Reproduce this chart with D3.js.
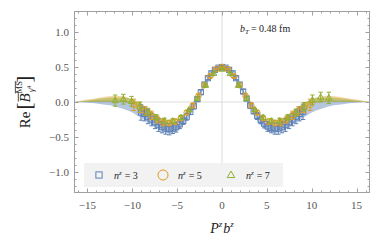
<!DOCTYPE html>
<html>
<head>
<meta charset="utf-8">
<script src="https://cdn.jsdelivr.net/npm/d3@7"></script>
<style>
  body { margin: 0; background: #fff; }
  svg { display: block; }
</style>
</head>
<body>
<script>
// ---- data ----
// n^z = 3 (blue squares)
const blueX = [-9.03, -8.64, -8.25, -7.85, -7.46, -7.07, -6.68, -6.28, -5.89, -5.50, -5.11, -4.71, -4.32, -3.93, -3.53, -3.14, -2.75, -2.36, -1.96, -1.57, -1.18, -0.79, -0.39,
  0, 0.39, 0.79, 1.18, 1.57, 1.96, 2.36, 2.75, 3.14, 3.53, 3.93, 4.32, 4.71, 5.11, 5.50, 5.89, 6.28, 6.68, 7.07, 7.46, 7.85, 8.25, 8.64, 9.03];
const blueY = [-0.15, -0.17, -0.21, -0.25, -0.29, -0.33, -0.36, -0.38, -0.39, -0.38, -0.36, -0.32, -0.27, -0.21, -0.14, -0.06, 0.04, 0.14, 0.25, 0.34, 0.41, 0.46, 0.49,
  0.50, 0.49, 0.46, 0.41, 0.34, 0.25, 0.15, 0.05, -0.05, -0.13, -0.20, -0.26, -0.31, -0.35, -0.37, -0.38, -0.38, -0.36, -0.33, -0.29, -0.25, -0.21, -0.17, -0.14];
const blueErr = [0.11, 0.10, 0.10, 0.09, 0.09, 0.09, 0.08, 0.08, 0.08, 0.07, 0.07, 0.06, 0.05, 0.05, 0.04, 0.04, 0.03, 0.03, 0.02, 0.02, 0.02, 0.02, 0.02,
  0.02, 0.02, 0.02, 0.02, 0.02, 0.02, 0.03, 0.03, 0.04, 0.04, 0.05, 0.05, 0.06, 0.07, 0.07, 0.08, 0.08, 0.08, 0.09, 0.09, 0.09, 0.10, 0.10, 0.11];

// n^z = 5 (orange circles)
const orangeX = [-9.82, -9.16, -8.51, -7.85, -7.20, -6.54, -5.89, -5.24, -4.58, -3.93, -3.27, -2.62, -1.96, -1.31, -0.65,
  0, 0.65, 1.31, 1.96, 2.62, 3.27, 3.93, 4.58, 5.24, 5.89, 6.54, 7.20, 7.85, 8.51, 9.16, 9.82];
const orangeY = [-0.04, -0.08, -0.13, -0.19, -0.25, -0.29, -0.30, -0.28, -0.23, -0.15, -0.05, 0.09, 0.24, 0.37, 0.47,
  0.50, 0.47, 0.37, 0.24, 0.09, -0.05, -0.15, -0.23, -0.28, -0.30, -0.29, -0.25, -0.19, -0.13, -0.08, -0.04];
const orangeErr = [0.08, 0.07, 0.06, 0.06, 0.05, 0.05, 0.04, 0.04, 0.03, 0.03, 0.03, 0.02, 0.02, 0.02, 0.01,
  0.01, 0.01, 0.02, 0.02, 0.02, 0.03, 0.03, 0.03, 0.04, 0.04, 0.05, 0.05, 0.06, 0.06, 0.07, 0.08];

// n^z = 7 (green triangles)
const greenX = [-11.91, -11.00, -10.08, -9.16, -8.25, -7.33, -6.41, -5.50, -4.58, -3.67, -2.75, -1.83, -0.92,
  0, 0.92, 1.83, 2.75, 3.67, 4.58, 5.50, 6.41, 7.33, 8.25, 9.16, 10.08, 11.00, 11.91];
const greenY = [0.02, 0.04, 0.01, -0.06, -0.14, -0.22, -0.27, -0.27, -0.22, -0.11, 0.05, 0.24, 0.41,
  0.47, 0.41, 0.24, 0.05, -0.11, -0.22, -0.27, -0.27, -0.22, -0.15, -0.07, 0.03, 0.07, 0.06];
const greenErr = [0.08, 0.07, 0.07, 0.06, 0.05, 0.04, 0.04, 0.03, 0.03, 0.02, 0.02, 0.02, 0.01,
  0.01, 0.01, 0.02, 0.02, 0.02, 0.03, 0.03, 0.04, 0.04, 0.05, 0.06, 0.07, 0.07, 0.08];

// fit bands: knots, centre and half width
const bandX = [-16.5, -15, -14, -13, -12, -11, -10, -9, -8, -7, -6, -5, -4, -3, -2, -1, 0,
  1, 2, 3, 4, 5, 6, 7, 8, 9, 10, 11, 12, 13, 14, 15, 16.5];
const blueBandMid = [0, 0, 0, -0.01, -0.02, -0.04, -0.08, -0.15, -0.23, -0.32, -0.38, -0.36, -0.24, -0.03, 0.22, 0.42, 0.50,
  0.42, 0.22, -0.03, -0.24, -0.36, -0.38, -0.32, -0.23, -0.15, -0.08, -0.04, -0.02, -0.01, 0, 0, 0];
const blueBandHalf = [0, 0.01, 0.02, 0.03, 0.04, 0.06, 0.07, 0.08, 0.08, 0.07, 0.06, 0.05, 0.04, 0.03, 0.02, 0.02, 0.02,
  0.02, 0.02, 0.03, 0.04, 0.05, 0.06, 0.07, 0.08, 0.08, 0.07, 0.06, 0.04, 0.03, 0.02, 0.01, 0];
const orangeBandMid = [0, 0.02, 0.03, 0.04, 0.045, 0.04, 0.0, -0.06, -0.15, -0.25, -0.30, -0.29, -0.17, 0.02, 0.24, 0.43, 0.50,
  0.43, 0.24, 0.02, -0.17, -0.29, -0.30, -0.25, -0.15, -0.06, 0.0, 0.04, 0.045, 0.04, 0.03, 0.02, 0];
const orangeBandHalf = [0, 0.015, 0.025, 0.035, 0.04, 0.04, 0.04, 0.035, 0.03, 0.025, 0.02, 0.02, 0.02, 0.015, 0.015, 0.01, 0.01,
  0.01, 0.015, 0.015, 0.02, 0.02, 0.02, 0.025, 0.03, 0.035, 0.04, 0.04, 0.04, 0.035, 0.025, 0.015, 0];
const greenBandMid = [0, 0.01, 0.02, 0.03, 0.03, 0.03, 0.01, -0.05, -0.14, -0.23, -0.27, -0.26, -0.15, 0.03, 0.24, 0.42, 0.47,
  0.42, 0.24, 0.03, -0.15, -0.26, -0.27, -0.23, -0.14, -0.05, 0.01, 0.03, 0.03, 0.03, 0.02, 0.01, 0];
const greenBandHalf = [0, 0.01, 0.02, 0.025, 0.03, 0.03, 0.03, 0.025, 0.02, 0.02, 0.015, 0.015, 0.015, 0.01, 0.01, 0.01, 0.01,
  0.01, 0.01, 0.01, 0.015, 0.015, 0.015, 0.02, 0.02, 0.025, 0.03, 0.03, 0.03, 0.025, 0.02, 0.01, 0];

const xTicks = [-15, -10, -5, 0, 5, 10, 15];
const yTicks = [-1.0, -0.5, 0.0, 0.5, 1.0];
const legendLabels = ["3", "5", "7"];

// ---- layout ----
const W = 382, H = 243;
const mLeft = 74, mRight = 370, mTop = 11, mBottom = 193;
const blue = "#5E81B5", orange = "#E19C24", green = "#8FB032";
const serif = "'Liberation Serif', 'DejaVu Serif', serif";

const svg = d3.select("body").append("svg").attr("width", W).attr("height", H);

const x = d3.scaleLinear().domain([-16.5, 16.5]).range([mLeft, mRight]);
const y = d3.scaleLinear().domain([-1.3, 1.3]).range([mBottom, mTop]);

const plot = svg.append("g");
plot.append("clipPath").attr("id", "clip").append("rect")
  .attr("x", mLeft).attr("y", mTop).attr("width", mRight - mLeft).attr("height", mBottom - mTop);
const inner = plot.append("g").attr("clip-path", "url(#clip)");

// grid lines through the origin
inner.append("line").attr("x1", x(0)).attr("x2", x(0)).attr("y1", mTop).attr("y2", mBottom)
  .attr("stroke", "#dcdcdc").attr("stroke-width", 1);
inner.append("line").attr("x1", mLeft).attr("x2", mRight).attr("y1", y(0)).attr("y2", y(0))
  .attr("stroke", "#dcdcdc").attr("stroke-width", 1);

// bands
const area = d3.area().curve(d3.curveMonotoneX)
  .x((d) => x(d[0])).y0((d) => y(d[1] - d[2])).y1((d) => y(d[1] + d[2]));
const bands = [
  [blueBandMid, blueBandHalf, blue, 0.45],
  [orangeBandMid, orangeBandHalf, orange, 0.45],
  [greenBandMid, greenBandHalf, green, 0.45],
];
bands.forEach(([mid, half, col, op]) => {
  inner.append("path")
    .datum(bandX.map((v, i) => [v, mid[i], half[i]]))
    .attr("d", area).attr("fill", col).attr("fill-opacity", op);
});

// markers
function drawMarker(g, type, cx, cy, col, scale = 1) {
  if (type === "square") {
    const s = 2.6 * scale;
    g.append("rect").attr("x", cx - s).attr("y", cy - s).attr("width", 2 * s).attr("height", 2 * s)
      .attr("fill", "none").attr("stroke", col).attr("stroke-width", 1);
  } else if (type === "circle") {
    g.append("circle").attr("cx", cx).attr("cy", cy).attr("r", 2.8 * scale)
      .attr("fill", "none").attr("stroke", col).attr("stroke-width", 1);
  } else {
    const s = 3.3 * scale;
    g.append("path")
      .attr("d", `M${cx},${cy - s}L${cx + s * 0.95},${cy + s * 0.65}L${cx - s * 0.95},${cy + s * 0.65}Z`)
      .attr("fill", "none").attr("stroke", col).attr("stroke-width", 1);
  }
}

const series = [
  [blueX, blueY, blueErr, blue, "square"],
  [orangeX, orangeY, orangeErr, orange, "circle"],
  [greenX, greenY, greenErr, green, "triangle"],
];
series.forEach(([xs, ys, es, col, type]) => {
  const g = inner.append("g");
  xs.forEach((xv, i) => {
    const cx = x(xv), y1 = y(ys[i] + es[i]), y2 = y(ys[i] - es[i]);
    g.append("line").attr("x1", cx).attr("x2", cx).attr("y1", y1).attr("y2", y2)
      .attr("stroke", col).attr("stroke-width", 1);
    [y1, y2].forEach((yy) => {
      g.append("line").attr("x1", cx - 2.2).attr("x2", cx + 2.2).attr("y1", yy).attr("y2", yy)
        .attr("stroke", col).attr("stroke-width", 1);
    });
  });
  xs.forEach((xv, i) => drawMarker(g, type, x(xv), y(ys[i]), col));
});

// frame with inward ticks
const frameCol = "#a0a0a0";
const frame = svg.append("g").attr("stroke", frameCol).attr("stroke-width", 1).attr("fill", "none");
frame.append("rect").attr("x", mLeft + 0.5).attr("y", mTop + 0.5)
  .attr("width", mRight - mLeft - 1).attr("height", mBottom - mTop - 1);

const xMinor = d3.range(-16, 17, 1);
xMinor.forEach((v) => {
  const major = v % 5 === 0;
  const len = major ? 4.5 : 2.5;
  const px = Math.round(x(v)) + 0.5;
  frame.append("line").attr("x1", px).attr("x2", px).attr("y1", mBottom).attr("y2", mBottom - len);
  frame.append("line").attr("x1", px).attr("x2", px).attr("y1", mTop).attr("y2", mTop + len);
});
const yMinor = d3.range(-12, 13, 1).map((v) => v / 10);
yMinor.forEach((v) => {
  const major = Math.abs(Math.round(v * 10)) % 5 === 0;
  const len = major ? 4.5 : 2.5;
  const py = Math.round(y(v)) + 0.5;
  frame.append("line").attr("x1", mLeft).attr("x2", mLeft + len).attr("y1", py).attr("y2", py);
  frame.append("line").attr("x1", mRight).attr("x2", mRight - len).attr("y1", py).attr("y2", py);
});

// tick labels
const fmtMinus = (s) => s.replace("-", "\u2212");
svg.append("g").selectAll("text").data(xTicks).join("text")
  .attr("x", (d) => x(d)).attr("y", mBottom + 16)
  .attr("text-anchor", "middle")
  .attr("font-family", serif).attr("font-size", 11).attr("fill", "#555")
  .text((d) => fmtMinus(String(d)));
svg.append("g").selectAll("text").data(yTicks).join("text")
  .attr("x", mLeft - 5).attr("y", (d) => y(d) + 4)
  .attr("text-anchor", "end")
  .attr("font-family", serif).attr("font-size", 11).attr("fill", "#555")
  .text((d) => fmtMinus(d.toFixed(1)));

// helper for text made of pieces (italics, sub/superscripts)
function rich(g, pieces, x0, y0) {
  let cx = x0;
  pieces.forEach((p) => {
    const t = g.append("text").attr("x", cx).attr("y", y0 + (p.dy || 0))
      .attr("font-family", serif).attr("font-size", p.size)
      .attr("font-style", p.italic ? "italic" : "normal")
      .attr("fill", p.fill || "#222")
      .text(p.t);
    const w = t.node().getComputedTextLength();
    if (p.over) {
      const oy = y0 + (p.dy || 0) - p.size * 0.78;
      g.append("line").attr("x1", cx + (p.overShift || 0)).attr("x2", cx + w + (p.overShift || 0))
        .attr("y1", oy).attr("y2", oy)
        .attr("stroke", p.fill || "#222").attr("stroke-width", 0.8);
    }
    cx += w + (p.gap || 0);
  });
  return cx - x0;
}

// x axis title
const xt = svg.append("g");
const xw = rich(xt, [
  { t: "P", size: 14, italic: true },
  { t: "z", size: 9, italic: true, dy: -6, gap: 1 },
  { t: "b", size: 14, italic: true },
  { t: "z", size: 9, italic: true, dy: -6 },
], 0, 233);
xt.attr("transform", `translate(${x(0) - xw / 2},0)`);

// y axis title (rotated)
const yt = svg.append("g");
const yw = rich(yt, [
  { t: "Re", size: 15, gap: 2 },
  { t: "[", size: 21, dy: 1 },
  { t: "B", size: 15, italic: true, over: true, overShift: 1 },
  { t: "MS", size: 8.5, dy: -8, over: true, gap: -11 },
  { t: "\u03B3", size: 8.5, italic: true, dy: 4 },
  { t: "4", size: 6, dy: 1, gap: 3 },
  { t: "]", size: 21, dy: 1 },
], 0, 0);
yt.attr("transform", `translate(30,${(mTop + mBottom) / 2 + yw / 2}) rotate(-90)`);

// annotation
rich(svg.append("g"), [
  { t: "b", size: 10, italic: true },
  { t: "T", size: 7, italic: true, dy: 2, gap: 2 },
  { t: "= 0.48 fm", size: 10 },
], 240, 32);

// legend
const lg = svg.append("g");
lg.append("rect").attr("x", 84).attr("y", 163).attr("width", 199).attr("height", 24).attr("fill", "#f2f2f2");
const legendX = [99, 163, 231];
const legendTypes = ["square", "circle", "triangle"];
const legendCols = [blue, orange, green];
legendLabels.forEach((lab, i) => {
  drawMarker(lg, legendTypes[i], legendX[i], 175, legendCols[i], i === 1 ? 1.8 : 1.2);
  rich(lg, [
    { t: "n", size: 10, italic: true },
    { t: "z", size: 7, italic: true, dy: -4, gap: 3 },
    { t: "= " + lab, size: 10 },
  ], legendX[i] + 15, 179);
});
</script>
</body>
</html>
